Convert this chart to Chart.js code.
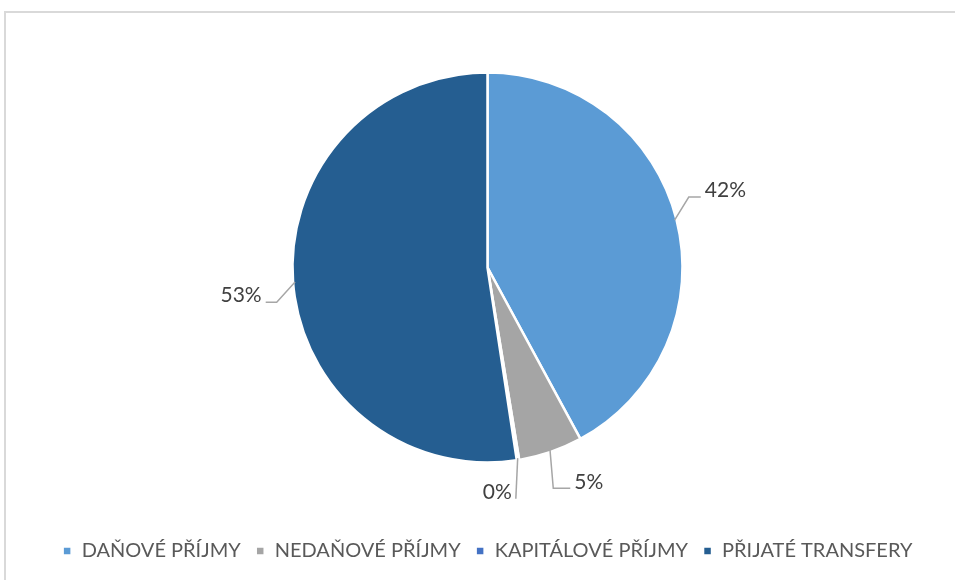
<!DOCTYPE html>
<html>
<head>
<meta charset="utf-8">
<script src="https://cdn.jsdelivr.net/npm/chart.js@4"></script>
<style>
  html, body { margin: 0; padding: 0; background: #fff; overflow: hidden; }
  #wrap { position: absolute; left: 0; top: 0; width: 955px; height: 580px; }
  #frame { position: absolute; left: 4px; top: 11px; width: 980px; height: 600px;
           border: 2px solid #d9d9d9; box-sizing: border-box; pointer-events: none; }
</style>
</head>
<body>
<div id="wrap"><canvas id="c" width="955" height="580"></canvas></div>
<div id="frame"></div>
<script>
// ---- data ----
const categories = ['DAŇOVÉ PŘÍJMY', 'NEDAŇOVÉ PŘÍJMY', 'KAPITÁLOVÉ PŘÍJMY', 'PŘIJATÉ TRANSFERY'];
const shares = [42.1, 5.3, 0.2, 52.4];
const shareLabels = ['42%', '5%', '0%', '53%'];
const colors = ['#5B9BD5', '#A5A5A5', '#4472C4', '#255E91'];

// label placement (angle shift in degrees from slice middle, extra distance beyond radius, side, leader horizontal length)
const labelPlace = [
  { da: -3.7, extra: 55, side: 'right', h: 12 },
  { da: -6.4, extra: 42, side: 'right', h: 17 },
  { da: 6.5, extra: 30, side: 'left', h: 0 },
  { da: -2.2, extra: 53, side: 'left', h: 11 }
];

const FONT = 'Lato, "Noto Sans", sans-serif';

const labelPlugin = {
  id: 'pieLabels',
  afterDatasetsDraw(chart) {
    const ctx = chart.ctx;
    const meta = chart.getDatasetMeta(0);
    ctx.save();
    ctx.font = '21px ' + FONT;
    ctx.textBaseline = 'middle';
    meta.data.forEach((arc, i) => {
      const p = arc.getProps(['x', 'y', 'startAngle', 'endAngle', 'outerRadius'], true);
      const mid = (p.startAngle + p.endAngle) / 2;
      const cfg = labelPlace[i];
      const la = mid + cfg.da * Math.PI / 180;
      const d = p.outerRadius + cfg.extra;
      const lx = p.x + Math.cos(la) * d;
      const ly = p.y + Math.sin(la) * d;
      const txt = shareLabels[i];
      const w = ctx.measureText(txt).width;
      const left = lx - w / 2, right = lx + w / 2;
      const lineY = ly + 6.5;
      let endX, elbowX;
      if (cfg.side === 'right') { endX = left - 4; elbowX = endX - cfg.h; }
      else { endX = right + 4; elbowX = endX + cfg.h; }
      const ex = p.x + Math.cos(mid) * (p.outerRadius - 2);
      const ey = p.y + Math.sin(mid) * (p.outerRadius - 2);
      ctx.strokeStyle = '#a6a6a6';
      ctx.lineWidth = 1.5;
      ctx.beginPath();
      ctx.moveTo(ex, ey);
      ctx.lineTo(elbowX, lineY);
      ctx.lineTo(endX, lineY);
      ctx.stroke();
      ctx.fillStyle = '#404040';
      ctx.textAlign = 'center';
      ctx.fillText(txt, lx, ly);
    });
    ctx.restore();
  }
};

new Chart(document.getElementById('c'), {
  type: 'pie',
  data: {
    labels: categories,
    datasets: [{
      data: shares,
      backgroundColor: colors,
      borderColor: '#ffffff',
      borderWidth: 2.5,
      radius: 195
    }]
  },
  options: {
    responsive: false,
    animation: false,
    layout: { padding: { left: 20, right: 0, top: 9, bottom: 9 } },
    plugins: {
      tooltip: { enabled: false },
      legend: {
        position: 'bottom',
        labels: {
          boxWidth: 9, boxHeight: 9,
          padding: 15,
          color: '#595959',
          font: { family: FONT, size: 20 }
        }
      }
    }
  },
  plugins: [labelPlugin]
});
</script>
</body>
</html>
